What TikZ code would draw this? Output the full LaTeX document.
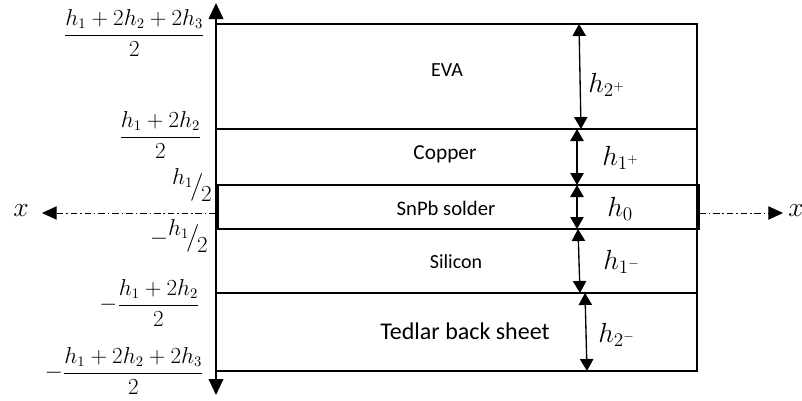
\documentclass[tikz,border=0pt]{standalone}
\usepackage{amsmath}
\usepackage{fontspec}
\setmainfont{Carlito}
\usetikzlibrary{arrows.meta}

% skewed fraction a/b as used for the solder faces
\newcommand{\skewfrac}[2]{\raisebox{0.4em}{$#1$}\mkern-2mu\big/\mkern-2mu\raisebox{-0.4em}{$#2$}}

\tikzset{
  layer/.style={draw, line width=0.9pt},
  dimarrow/.style={line width=1pt, {Triangle[length=9pt,width=10pt]}-{Triangle[length=9pt,width=10pt]}},
  axisline/.style={line width=1.4pt},
  xaxis/.style={line width=0.75pt, dash pattern=on 5pt off 2.2pt on 1pt off 2.2pt, -{Triangle[length=11pt,width=10pt]}},
  laytext/.style={anchor=base, inner sep=0.75pt, font=\fontsize{15}{18}\selectfont},
  hlabel/.style={anchor=base west, inner sep=0.75pt, font=\fontsize{20}{24}\selectfont},
  zlabel/.style={anchor=east, inner sep=0pt, font=\fontsize{16}{19}\selectfont}
}

\begin{document}
\begin{tikzpicture}[x=0.75pt,y=0.75pt,yscale=-1,xscale=1]
\useasboundingbox (0,0) rectangle (802,400);

%Shape: Rectangle (laminate stack)
\draw [layer] (216,24) rectangle (697,371) ;
%Straight Lines (EVA / copper)
\draw [layer] (216,129) -- (697,129) ;
%Straight Lines (silicon / tedlar)
\draw [layer] (216,293) -- (697,293) ;
%Shape: Rectangle (solder layer)
\draw [layer] (218,185) rectangle (699,229) ;

%Straight Lines (vertical axis)
\draw [axisline, {Triangle[length=12pt,width=11pt]}-{Triangle[length=12pt,width=11pt]}] (216,395) -- (216,3) ;

%Coordinates (x axis ends)
\coordinate (xl0) at (216,213) ;
\coordinate (xl1) at (42,213) ;
\coordinate (xr0) at (699,213) ;
\coordinate (xr1) at (783,213) ;
%Straight Lines (x axis, dash dot)
\draw [xaxis] (xl0) -- (xl1) ;
\draw [xaxis] (xr0) -- (xr1) ;

% Text Node
\node (xleft) at (21,211) [font=\fontsize{20}{24}\selectfont] {$x$};
% Text Node
\node (xright) at (796,211) [font=\fontsize{20}{24}\selectfont] {$x$};

%Coordinates (thickness arrows)
\coordinate (a1) at (579,24) ;
\coordinate (a2) at (581,129) ;
\coordinate (b1) at (577,129) ;
\coordinate (b2) at (577,185) ;
\coordinate (c1) at (577,185) ;
\coordinate (c2) at (577,229) ;
\coordinate (d1) at (578,229) ;
\coordinate (d2) at (580,293) ;
\coordinate (e1) at (585,293) ;
\coordinate (e2) at (587,371) ;
%Straight Lines (thickness arrows)
\draw [dimarrow] (a1) -- (a2) ;
\draw [dimarrow] (b1) -- (b2) ;
\draw [dimarrow] (c1) -- (c2) ;
\draw [dimarrow] (d1) -- (d2) ;
\draw [dimarrow] (e1) -- (e2) ;

% Text Node
\node (heva) at (587,92) [hlabel] {$h_{2^+}$};
% Text Node
\node (hcu) at (601,165) [hlabel] {$h_{1^+}$};
% Text Node
\node (hsol) at (606,216) [hlabel] {$h_0$};
% Text Node
\node (hsi) at (602,269) [hlabel] {$h_{1^-}$};
% Text Node
\node (hted) at (597,342) [hlabel] {$h_{2^-}$};

% Text Node
\node (teva) at (447,76) [laytext] {EVA};
% Text Node
\node (tcu) at (445,159) [laytext, font=\fontsize{16}{19}\selectfont] {Copper};
% Text Node
\node (tsol) at (446,215) [laytext, font=\fontsize{15.5}{18}\selectfont] {SnPb solder};
% Text Node
\node (tsi) at (456,268) [laytext] {Silicon};
% Text Node
\node (tted) at (465,339) [laytext, font=\fontsize{18}{21}\selectfont] {Tedlar back sheet};

% Text Node
\node (z3) at (205,33) [zlabel] {$\dfrac{h_1+2h_2+2h_3}{2}$};
% Text Node
\node (z2) at (202,135) [zlabel] {$\dfrac{h_1+2h_2}{2}$};
% Text Node
\node (z1) at (212,185) [zlabel] {$\skewfrac{h_1}{2}$};
% Text Node
\node (zm1) at (208,236) [zlabel] {$-\skewfrac{h_1}{2}$};
% Text Node
\node (zm2) at (200,303) [zlabel] {$-\dfrac{h_1+2h_2}{2}$};
% Text Node
\node (zm3) at (204,371) [zlabel] {$-\dfrac{h_1+2h_2+2h_3}{2}$};

\end{tikzpicture}
\end{document}
